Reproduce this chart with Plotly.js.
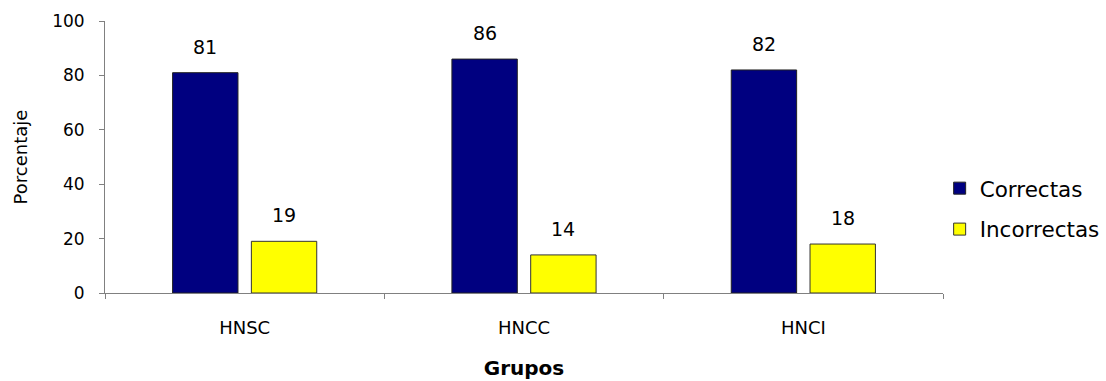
<!DOCTYPE html>
<html>
<head>
<meta charset="utf-8">
<script src="https://cdn.plot.ly/plotly-3.0.1.min.js"></script>
<style>html,body{margin:0;padding:0;background:#fff;}#chart{width:1106px;height:381px;}</style>
</head>
<body>
<div id="chart"></div>
<script>
const categories = ["HNSC", "HNCC", "HNCI"];
const correctas = [81, 86, 82];
const incorrectas = [19, 14, 18];
const seriesNames = ["Correctas", "Incorrectas"];
const yTicks = [0, 20, 40, 60, 80, 100];

const FONT = "DejaVu Sans, sans-serif";
const W = 1106, H = 381;
const margin = {l: 105, r: 163, t: 21, b: 88, autoexpand: false};
const bargap = 0.436;
const plotW = W - margin.l - margin.r;
const slotShift = (plotW / categories.length) * (1 - bargap) / 4;

const traces = [
  {type: "bar", name: seriesNames[0], x: categories, y: correctas,
   marker: {color: "#000080", line: {color: "#222222", width: 1}},
   legendgroup: "a", hoverinfo: "none"},
  {type: "bar", name: seriesNames[1], x: categories, y: incorrectas,
   marker: {color: "#FFFF00", line: {color: "#333333", width: 1}},
   legendgroup: "b", hoverinfo: "none"}
];

const annotations = [];
[correctas, incorrectas].forEach((vals, si) => {
  vals.forEach((v, i) => {
    annotations.push({x: categories[i], y: v, xref: "x", yref: "y",
      text: String(v), showarrow: false, yanchor: "bottom",
      xshift: si === 0 ? -slotShift : slotShift, yshift: 13,
      font: {family: FONT, size: 19, color: "#000"}});
  });
});

const layout = {
  width: W, height: H,
  margin: margin,
  paper_bgcolor: "#fff", plot_bgcolor: "#fff",
  barmode: "group", bargap: bargap, bargroupgap: 0.17,
  font: {family: FONT, size: 17, color: "#000"},
  showlegend: true,
  legend: {x: 0.996, xanchor: "left", y: 0.31, yanchor: "middle",
    traceorder: "grouped", tracegroupgap: 10, bgcolor: "rgba(0,0,0,0)",
    font: {family: FONT, size: 21.5, color: "#000"}},
  xaxis: {type: "category", showgrid: false, zeroline: false,
    showline: true, linecolor: "#808080", linewidth: 1,
    ticks: "outside", tickson: "boundaries", ticklen: 5, tickcolor: "#808080",
    ticklabelstandoff: 18,
    tickfont: {family: FONT, size: 18},
    title: {text: "<b>Grupos</b>", font: {family: FONT, size: 20}, standoff: 24}},
  yaxis: {range: [0, 100], tickvals: yTicks, showgrid: false, zeroline: false,
    showline: true, linecolor: "#808080", linewidth: 1,
    ticks: "outside", ticklen: 5, tickcolor: "#808080",
    ticklabelstandoff: 11,
    tickfont: {family: FONT, size: 17},
    title: {text: "Porcentaje", font: {family: FONT, size: 18}, standoff: 19}},
  annotations: annotations
};

Plotly.newPlot("chart", traces, layout, {displayModeBar: false, staticPlot: true});
</script>
</body>
</html>
